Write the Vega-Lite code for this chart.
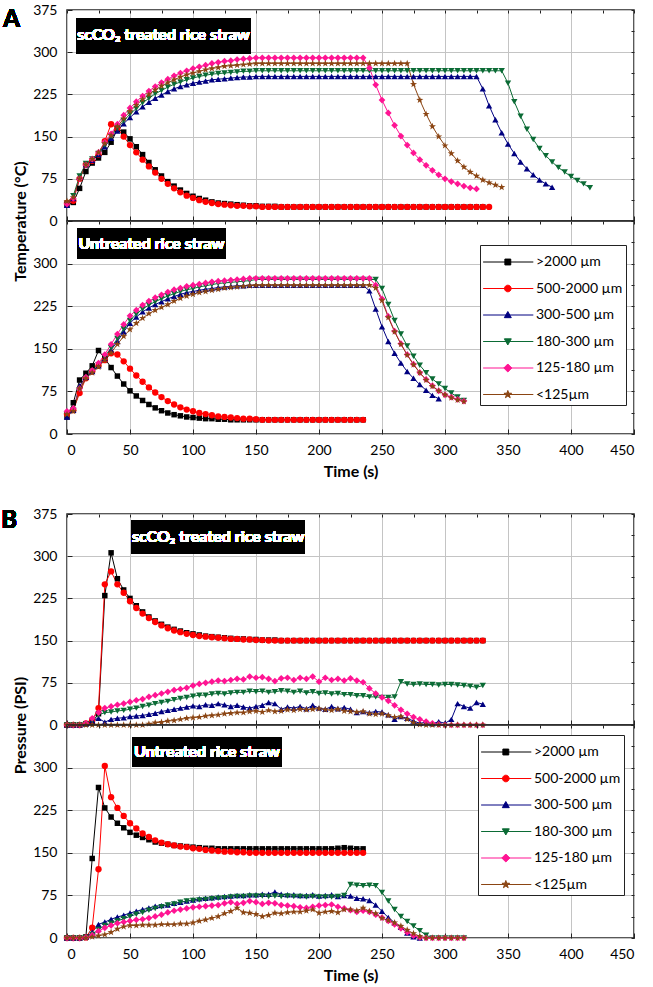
{
"$schema":"https://vega.github.io/schema/vega-lite/v6.json",
"background":"white",
"padding":{"left":0,"top":2,"right":4,"bottom":2},
"config":{"font":"Lato","view":{"stroke":"#222","strokeWidth":1.5},
"range":{"category":["#000000","#ff0000","#000080","#0b6b35","#ff1493","#8b4513"]},
"line":{"strokeWidth":1},
"point":{"filled":true,"opacity":1},
"axis":{"domain":false,"labelFont":"Lato","labelFontSize":14,"labelColor":"#000","titleFont":"Lato","titleFontSize":16,"titleFontWeight":"bold","titleColor":"#000","tickColor":"#222","grid":true},
"axisBottom":{"tickSize":-5,"labelPadding":14,"titlePadding":6,"gridColor":"#c4c4c4"},
"axisLeft":{"tickSize":-5,"labelPadding":15,"gridColor":"#c4c4c4"},
"axisTop":{"tickSize":-3,"labels":false,"gridDash":[2,2],"gridColor":"#d9d9d9"},
"axisRight":{"tickSize":-3,"labels":false,"gridDash":[2,2],"gridColor":"#d9d9d9"}},
"datasets":{
"ta":[
{"s":"a","t":0,"v":28},{"s":"a","t":5,"v":33},{"s":"a","t":10,"v":58},{"s":"a","t":15,"v":88},{"s":"a","t":20,"v":103},{"s":"a","t":25,"v":112},{"s":"a","t":30,"v":122},{"s":"a","t":35,"v":140},{"s":"a","t":40,"v":163},{"s":"a","t":45,"v":158},{"s":"a","t":50,"v":146},{"s":"a","t":55,"v":132},{"s":"a","t":60,"v":118},{"s":"a","t":65,"v":104},{"s":"a","t":70,"v":91},{"s":"a","t":75,"v":80},{"s":"a","t":80,"v":70},{"s":"a","t":85,"v":62},{"s":"a","t":90,"v":55},{"s":"a","t":95,"v":49},{"s":"a","t":100,"v":44},{"s":"a","t":105,"v":40},{"s":"a","t":110,"v":37},{"s":"a","t":115,"v":34},{"s":"a","t":120,"v":32},{"s":"a","t":125,"v":31},{"s":"a","t":130,"v":30},{"s":"a","t":135,"v":29},{"s":"a","t":140,"v":28},{"s":"a","t":145,"v":27},{"s":"a","t":150,"v":27},{"s":"a","t":155,"v":26},{"s":"a","t":160,"v":26},{"s":"a","t":165,"v":26},{"s":"a","t":170,"v":25},{"s":"a","t":175,"v":25},{"s":"a","t":180,"v":25},{"s":"a","t":185,"v":25},{"s":"a","t":190,"v":25},{"s":"a","t":195,"v":25},{"s":"a","t":200,"v":25},{"s":"a","t":205,"v":25},{"s":"a","t":210,"v":25},{"s":"a","t":215,"v":25},{"s":"a","t":220,"v":25},{"s":"a","t":225,"v":25},{"s":"a","t":230,"v":25},{"s":"a","t":235,"v":25},{"s":"a","t":240,"v":25},{"s":"a","t":245,"v":25},{"s":"a","t":250,"v":25},{"s":"a","t":255,"v":25},{"s":"a","t":260,"v":25},{"s":"a","t":265,"v":25},{"s":"a","t":270,"v":25},{"s":"a","t":275,"v":25},{"s":"a","t":280,"v":25},{"s":"a","t":285,"v":25},{"s":"a","t":290,"v":25},{"s":"a","t":295,"v":25},{"s":"a","t":300,"v":25},{"s":"a","t":305,"v":25},{"s":"a","t":310,"v":25},{"s":"a","t":315,"v":25},{"s":"a","t":320,"v":25},{"s":"a","t":325,"v":25},{"s":"a","t":330,"v":25},
{"s":"b","t":0,"v":32},{"s":"b","t":5,"v":36},{"s":"b","t":10,"v":75},{"s":"b","t":15,"v":100},{"s":"b","t":20,"v":107},{"s":"b","t":25,"v":118},{"s":"b","t":30,"v":142},{"s":"b","t":35,"v":172},{"s":"b","t":40,"v":165},{"s":"b","t":45,"v":150},{"s":"b","t":50,"v":135},{"s":"b","t":55,"v":122},{"s":"b","t":60,"v":109},{"s":"b","t":65,"v":97},{"s":"b","t":70,"v":86},{"s":"b","t":75,"v":75},{"s":"b","t":80,"v":66},{"s":"b","t":85,"v":58},{"s":"b","t":90,"v":51},{"s":"b","t":95,"v":45},{"s":"b","t":100,"v":41},{"s":"b","t":105,"v":37},{"s":"b","t":110,"v":34},{"s":"b","t":115,"v":32},{"s":"b","t":120,"v":30},{"s":"b","t":125,"v":29},{"s":"b","t":130,"v":28},{"s":"b","t":135,"v":27},{"s":"b","t":140,"v":27},{"s":"b","t":145,"v":26},{"s":"b","t":150,"v":26},{"s":"b","t":155,"v":25},{"s":"b","t":160,"v":25},{"s":"b","t":165,"v":25},{"s":"b","t":170,"v":25},{"s":"b","t":175,"v":25},{"s":"b","t":180,"v":25},{"s":"b","t":185,"v":25},{"s":"b","t":190,"v":25},{"s":"b","t":195,"v":25},{"s":"b","t":200,"v":25},{"s":"b","t":205,"v":25},{"s":"b","t":210,"v":25},{"s":"b","t":215,"v":25},{"s":"b","t":220,"v":25},{"s":"b","t":225,"v":25},{"s":"b","t":230,"v":25},{"s":"b","t":235,"v":25},{"s":"b","t":240,"v":25},{"s":"b","t":245,"v":25},{"s":"b","t":250,"v":25},{"s":"b","t":255,"v":25},{"s":"b","t":260,"v":25},{"s":"b","t":265,"v":25},{"s":"b","t":270,"v":25},{"s":"b","t":275,"v":25},{"s":"b","t":280,"v":25},{"s":"b","t":285,"v":25},{"s":"b","t":290,"v":25},{"s":"b","t":295,"v":25},{"s":"b","t":300,"v":25},{"s":"b","t":305,"v":25},{"s":"b","t":310,"v":25},{"s":"b","t":315,"v":25},{"s":"b","t":320,"v":25},{"s":"b","t":325,"v":25},{"s":"b","t":330,"v":25},{"s":"b","t":335,"v":25},
{"s":"c","t":0,"v":28},{"s":"c","t":5,"v":40},{"s":"c","t":10,"v":78},{"s":"c","t":15,"v":100},{"s":"c","t":20,"v":108},{"s":"c","t":25,"v":118},{"s":"c","t":30,"v":132},{"s":"c","t":35,"v":147},{"s":"c","t":40,"v":160},{"s":"c","t":45,"v":173},{"s":"c","t":50,"v":184},{"s":"c","t":55,"v":194},{"s":"c","t":60,"v":203},{"s":"c","t":65,"v":211},{"s":"c","t":70,"v":218},{"s":"c","t":75,"v":224},{"s":"c","t":80,"v":230},{"s":"c","t":85,"v":235},{"s":"c","t":90,"v":239},{"s":"c","t":95,"v":242},{"s":"c","t":100,"v":245},{"s":"c","t":105,"v":247},{"s":"c","t":110,"v":249},{"s":"c","t":115,"v":251},{"s":"c","t":120,"v":252},{"s":"c","t":125,"v":253},{"s":"c","t":130,"v":254},{"s":"c","t":135,"v":255},{"s":"c","t":140,"v":256},{"s":"c","t":145,"v":256},{"s":"c","t":150,"v":257},{"s":"c","t":155,"v":257},{"s":"c","t":160,"v":257},{"s":"c","t":165,"v":257},{"s":"c","t":170,"v":257},{"s":"c","t":175,"v":257},{"s":"c","t":180,"v":257},{"s":"c","t":185,"v":257},{"s":"c","t":190,"v":257},{"s":"c","t":195,"v":257},{"s":"c","t":200,"v":257},{"s":"c","t":205,"v":257},{"s":"c","t":210,"v":257},{"s":"c","t":215,"v":257},{"s":"c","t":220,"v":257},{"s":"c","t":225,"v":257},{"s":"c","t":230,"v":257},{"s":"c","t":235,"v":257},{"s":"c","t":240,"v":257},{"s":"c","t":245,"v":257},{"s":"c","t":250,"v":257},{"s":"c","t":255,"v":257},{"s":"c","t":260,"v":257},{"s":"c","t":265,"v":257},{"s":"c","t":270,"v":257},{"s":"c","t":275,"v":257},{"s":"c","t":280,"v":257},{"s":"c","t":285,"v":257},{"s":"c","t":290,"v":257},{"s":"c","t":295,"v":257},{"s":"c","t":300,"v":257},{"s":"c","t":305,"v":257},{"s":"c","t":310,"v":257},{"s":"c","t":315,"v":257},{"s":"c","t":320,"v":257},{"s":"c","t":325,"v":257},{"s":"c","t":330,"v":235},{"s":"c","t":335,"v":205},{"s":"c","t":340,"v":180},{"s":"c","t":345,"v":157},{"s":"c","t":350,"v":137},{"s":"c","t":355,"v":120},{"s":"c","t":360,"v":105},{"s":"c","t":365,"v":93},{"s":"c","t":370,"v":82},{"s":"c","t":375,"v":73},{"s":"c","t":380,"v":66},{"s":"c","t":385,"v":60},
{"s":"d","t":0,"v":30},{"s":"d","t":5,"v":45},{"s":"d","t":10,"v":80},{"s":"d","t":15,"v":102},{"s":"d","t":20,"v":110},{"s":"d","t":25,"v":120},{"s":"d","t":30,"v":135},{"s":"d","t":35,"v":150},{"s":"d","t":40,"v":165},{"s":"d","t":45,"v":178},{"s":"d","t":50,"v":190},{"s":"d","t":55,"v":200},{"s":"d","t":60,"v":210},{"s":"d","t":65,"v":218},{"s":"d","t":70,"v":226},{"s":"d","t":75,"v":232},{"s":"d","t":80,"v":238},{"s":"d","t":85,"v":243},{"s":"d","t":90,"v":247},{"s":"d","t":95,"v":251},{"s":"d","t":100,"v":254},{"s":"d","t":105,"v":257},{"s":"d","t":110,"v":259},{"s":"d","t":115,"v":261},{"s":"d","t":120,"v":262},{"s":"d","t":125,"v":263},{"s":"d","t":130,"v":264},{"s":"d","t":135,"v":265},{"s":"d","t":140,"v":266},{"s":"d","t":145,"v":266},{"s":"d","t":150,"v":267},{"s":"d","t":155,"v":267},{"s":"d","t":160,"v":267},{"s":"d","t":165,"v":267},{"s":"d","t":170,"v":267},{"s":"d","t":175,"v":267},{"s":"d","t":180,"v":267},{"s":"d","t":185,"v":267},{"s":"d","t":190,"v":267},{"s":"d","t":195,"v":267},{"s":"d","t":200,"v":267},{"s":"d","t":205,"v":267},{"s":"d","t":210,"v":267},{"s":"d","t":215,"v":267},{"s":"d","t":220,"v":267},{"s":"d","t":225,"v":267},{"s":"d","t":230,"v":267},{"s":"d","t":235,"v":267},{"s":"d","t":240,"v":267},{"s":"d","t":245,"v":267},{"s":"d","t":250,"v":267},{"s":"d","t":255,"v":267},{"s":"d","t":260,"v":267},{"s":"d","t":265,"v":267},{"s":"d","t":270,"v":267},{"s":"d","t":275,"v":267},{"s":"d","t":280,"v":267},{"s":"d","t":285,"v":267},{"s":"d","t":290,"v":267},{"s":"d","t":295,"v":267},{"s":"d","t":300,"v":267},{"s":"d","t":305,"v":267},{"s":"d","t":310,"v":267},{"s":"d","t":315,"v":267},{"s":"d","t":320,"v":267},{"s":"d","t":325,"v":267},{"s":"d","t":330,"v":267},{"s":"d","t":335,"v":267},{"s":"d","t":340,"v":267},{"s":"d","t":345,"v":267},{"s":"d","t":350,"v":245},{"s":"d","t":355,"v":212},{"s":"d","t":360,"v":186},{"s":"d","t":365,"v":163},{"s":"d","t":370,"v":145},{"s":"d","t":375,"v":129},{"s":"d","t":380,"v":116},{"s":"d","t":385,"v":105},{"s":"d","t":390,"v":95},{"s":"d","t":395,"v":87},{"s":"d","t":400,"v":79},{"s":"d","t":405,"v":72},{"s":"d","t":410,"v":66},{"s":"d","t":415,"v":59},
{"s":"e","t":0,"v":30},{"s":"e","t":5,"v":40},{"s":"e","t":10,"v":75},{"s":"e","t":15,"v":100},{"s":"e","t":20,"v":110},{"s":"e","t":25,"v":122},{"s":"e","t":30,"v":140},{"s":"e","t":35,"v":155},{"s":"e","t":40,"v":172},{"s":"e","t":45,"v":188},{"s":"e","t":50,"v":201},{"s":"e","t":55,"v":212},{"s":"e","t":60,"v":222},{"s":"e","t":65,"v":231},{"s":"e","t":70,"v":239},{"s":"e","t":75,"v":246},{"s":"e","t":80,"v":252},{"s":"e","t":85,"v":258},{"s":"e","t":90,"v":263},{"s":"e","t":95,"v":267},{"s":"e","t":100,"v":271},{"s":"e","t":105,"v":274},{"s":"e","t":110,"v":277},{"s":"e","t":115,"v":280},{"s":"e","t":120,"v":282},{"s":"e","t":125,"v":284},{"s":"e","t":130,"v":285},{"s":"e","t":135,"v":287},{"s":"e","t":140,"v":288},{"s":"e","t":145,"v":289},{"s":"e","t":150,"v":290},{"s":"e","t":155,"v":290},{"s":"e","t":160,"v":290},{"s":"e","t":165,"v":290},{"s":"e","t":170,"v":290},{"s":"e","t":175,"v":290},{"s":"e","t":180,"v":290},{"s":"e","t":185,"v":290},{"s":"e","t":190,"v":290},{"s":"e","t":195,"v":290},{"s":"e","t":200,"v":290},{"s":"e","t":205,"v":290},{"s":"e","t":210,"v":290},{"s":"e","t":215,"v":290},{"s":"e","t":220,"v":290},{"s":"e","t":225,"v":290},{"s":"e","t":230,"v":290},{"s":"e","t":235,"v":290},{"s":"e","t":240,"v":272},{"s":"e","t":245,"v":242},{"s":"e","t":250,"v":215},{"s":"e","t":255,"v":192},{"s":"e","t":260,"v":170},{"s":"e","t":265,"v":151},{"s":"e","t":270,"v":135},{"s":"e","t":275,"v":121},{"s":"e","t":280,"v":109},{"s":"e","t":285,"v":99},{"s":"e","t":290,"v":90},{"s":"e","t":295,"v":82},{"s":"e","t":300,"v":75},{"s":"e","t":305,"v":70},{"s":"e","t":310,"v":66},{"s":"e","t":315,"v":62},{"s":"e","t":320,"v":59},{"s":"e","t":325,"v":57},
{"s":"f","t":0,"v":35},{"s":"f","t":5,"v":42},{"s":"f","t":10,"v":75},{"s":"f","t":15,"v":100},{"s":"f","t":20,"v":110},{"s":"f","t":25,"v":122},{"s":"f","t":30,"v":138},{"s":"f","t":35,"v":152},{"s":"f","t":40,"v":168},{"s":"f","t":45,"v":182},{"s":"f","t":50,"v":195},{"s":"f","t":55,"v":206},{"s":"f","t":60,"v":216},{"s":"f","t":65,"v":225},{"s":"f","t":70,"v":233},{"s":"f","t":75,"v":240},{"s":"f","t":80,"v":246},{"s":"f","t":85,"v":251},{"s":"f","t":90,"v":256},{"s":"f","t":95,"v":260},{"s":"f","t":100,"v":263},{"s":"f","t":105,"v":266},{"s":"f","t":110,"v":269},{"s":"f","t":115,"v":271},{"s":"f","t":120,"v":273},{"s":"f","t":125,"v":275},{"s":"f","t":130,"v":276},{"s":"f","t":135,"v":277},{"s":"f","t":140,"v":278},{"s":"f","t":145,"v":279},{"s":"f","t":150,"v":280},{"s":"f","t":155,"v":280},{"s":"f","t":160,"v":280},{"s":"f","t":165,"v":280},{"s":"f","t":170,"v":280},{"s":"f","t":175,"v":280},{"s":"f","t":180,"v":280},{"s":"f","t":185,"v":280},{"s":"f","t":190,"v":280},{"s":"f","t":195,"v":280},{"s":"f","t":200,"v":280},{"s":"f","t":205,"v":280},{"s":"f","t":210,"v":280},{"s":"f","t":215,"v":280},{"s":"f","t":220,"v":280},{"s":"f","t":225,"v":280},{"s":"f","t":230,"v":280},{"s":"f","t":235,"v":280},{"s":"f","t":240,"v":280},{"s":"f","t":245,"v":280},{"s":"f","t":250,"v":280},{"s":"f","t":255,"v":280},{"s":"f","t":260,"v":280},{"s":"f","t":265,"v":280},{"s":"f","t":270,"v":280},{"s":"f","t":275,"v":243},{"s":"f","t":280,"v":215},{"s":"f","t":285,"v":190},{"s":"f","t":290,"v":168},{"s":"f","t":295,"v":150},{"s":"f","t":300,"v":134},{"s":"f","t":305,"v":120},{"s":"f","t":310,"v":107},{"s":"f","t":315,"v":96},{"s":"f","t":320,"v":87},{"s":"f","t":325,"v":80},{"s":"f","t":330,"v":73},{"s":"f","t":335,"v":68},{"s":"f","t":340,"v":64},{"s":"f","t":345,"v":60}
],
"tb":[
{"s":"a","t":0,"v":30},{"s":"a","t":5,"v":55},{"s":"a","t":10,"v":95},{"s":"a","t":15,"v":107},{"s":"a","t":20,"v":120},{"s":"a","t":25,"v":147},{"s":"a","t":30,"v":133},{"s":"a","t":35,"v":117},{"s":"a","t":40,"v":102},{"s":"a","t":45,"v":88},{"s":"a","t":50,"v":76},{"s":"a","t":55,"v":67},{"s":"a","t":60,"v":59},{"s":"a","t":65,"v":52},{"s":"a","t":70,"v":46},{"s":"a","t":75,"v":41},{"s":"a","t":80,"v":37},{"s":"a","t":85,"v":34},{"s":"a","t":90,"v":32},{"s":"a","t":95,"v":30},{"s":"a","t":100,"v":29},{"s":"a","t":105,"v":28},{"s":"a","t":110,"v":27},{"s":"a","t":115,"v":27},{"s":"a","t":120,"v":26},{"s":"a","t":125,"v":26},{"s":"a","t":130,"v":25},{"s":"a","t":135,"v":25},{"s":"a","t":140,"v":25},{"s":"a","t":145,"v":25},{"s":"a","t":150,"v":25},{"s":"a","t":155,"v":25},{"s":"a","t":160,"v":25},{"s":"a","t":165,"v":25},{"s":"a","t":170,"v":25},{"s":"a","t":175,"v":25},{"s":"a","t":180,"v":25},{"s":"a","t":185,"v":25},{"s":"a","t":190,"v":25},{"s":"a","t":195,"v":25},{"s":"a","t":200,"v":25},{"s":"a","t":205,"v":25},{"s":"a","t":210,"v":25},{"s":"a","t":215,"v":25},{"s":"a","t":220,"v":25},{"s":"a","t":225,"v":25},{"s":"a","t":230,"v":25},{"s":"a","t":235,"v":25},
{"s":"b","t":0,"v":35},{"s":"b","t":5,"v":42},{"s":"b","t":10,"v":72},{"s":"b","t":15,"v":98},{"s":"b","t":20,"v":110},{"s":"b","t":25,"v":120},{"s":"b","t":30,"v":130},{"s":"b","t":35,"v":142},{"s":"b","t":40,"v":140},{"s":"b","t":45,"v":128},{"s":"b","t":50,"v":115},{"s":"b","t":55,"v":103},{"s":"b","t":60,"v":92},{"s":"b","t":65,"v":82},{"s":"b","t":70,"v":73},{"s":"b","t":75,"v":65},{"s":"b","t":80,"v":58},{"s":"b","t":85,"v":52},{"s":"b","t":90,"v":47},{"s":"b","t":95,"v":43},{"s":"b","t":100,"v":40},{"s":"b","t":105,"v":37},{"s":"b","t":110,"v":35},{"s":"b","t":115,"v":33},{"s":"b","t":120,"v":31},{"s":"b","t":125,"v":30},{"s":"b","t":130,"v":29},{"s":"b","t":135,"v":28},{"s":"b","t":140,"v":27},{"s":"b","t":145,"v":27},{"s":"b","t":150,"v":26},{"s":"b","t":155,"v":25},{"s":"b","t":160,"v":25},{"s":"b","t":165,"v":25},{"s":"b","t":170,"v":25},{"s":"b","t":175,"v":25},{"s":"b","t":180,"v":25},{"s":"b","t":185,"v":25},{"s":"b","t":190,"v":25},{"s":"b","t":195,"v":25},{"s":"b","t":200,"v":25},{"s":"b","t":205,"v":25},{"s":"b","t":210,"v":25},{"s":"b","t":215,"v":25},{"s":"b","t":220,"v":25},{"s":"b","t":225,"v":25},{"s":"b","t":230,"v":25},{"s":"b","t":235,"v":25},
{"s":"c","t":0,"v":30},{"s":"c","t":5,"v":42},{"s":"c","t":10,"v":85},{"s":"c","t":15,"v":100},{"s":"c","t":20,"v":110},{"s":"c","t":25,"v":120},{"s":"c","t":30,"v":133},{"s":"c","t":35,"v":148},{"s":"c","t":40,"v":163},{"s":"c","t":45,"v":180},{"s":"c","t":50,"v":195},{"s":"c","t":55,"v":206},{"s":"c","t":60,"v":215},{"s":"c","t":65,"v":222},{"s":"c","t":70,"v":228},{"s":"c","t":75,"v":233},{"s":"c","t":80,"v":238},{"s":"c","t":85,"v":242},{"s":"c","t":90,"v":246},{"s":"c","t":95,"v":249},{"s":"c","t":100,"v":251},{"s":"c","t":105,"v":253},{"s":"c","t":110,"v":255},{"s":"c","t":115,"v":256},{"s":"c","t":120,"v":258},{"s":"c","t":125,"v":259},{"s":"c","t":130,"v":260},{"s":"c","t":135,"v":261},{"s":"c","t":140,"v":261},{"s":"c","t":145,"v":262},{"s":"c","t":150,"v":262},{"s":"c","t":155,"v":262},{"s":"c","t":160,"v":262},{"s":"c","t":165,"v":262},{"s":"c","t":170,"v":262},{"s":"c","t":175,"v":262},{"s":"c","t":180,"v":262},{"s":"c","t":185,"v":262},{"s":"c","t":190,"v":262},{"s":"c","t":195,"v":262},{"s":"c","t":200,"v":262},{"s":"c","t":205,"v":262},{"s":"c","t":210,"v":262},{"s":"c","t":215,"v":262},{"s":"c","t":220,"v":262},{"s":"c","t":225,"v":262},{"s":"c","t":230,"v":262},{"s":"c","t":235,"v":262},{"s":"c","t":240,"v":252},{"s":"c","t":245,"v":220},{"s":"c","t":250,"v":189},{"s":"c","t":255,"v":163},{"s":"c","t":260,"v":142},{"s":"c","t":265,"v":125},{"s":"c","t":270,"v":110},{"s":"c","t":275,"v":98},{"s":"c","t":280,"v":87},{"s":"c","t":285,"v":77},{"s":"c","t":290,"v":68},{"s":"c","t":295,"v":62},
{"s":"d","t":0,"v":35},{"s":"d","t":5,"v":42},{"s":"d","t":10,"v":78},{"s":"d","t":15,"v":98},{"s":"d","t":20,"v":110},{"s":"d","t":25,"v":122},{"s":"d","t":30,"v":136},{"s":"d","t":35,"v":152},{"s":"d","t":40,"v":168},{"s":"d","t":45,"v":185},{"s":"d","t":50,"v":200},{"s":"d","t":55,"v":211},{"s":"d","t":60,"v":220},{"s":"d","t":65,"v":227},{"s":"d","t":70,"v":233},{"s":"d","t":75,"v":238},{"s":"d","t":80,"v":243},{"s":"d","t":85,"v":247},{"s":"d","t":90,"v":251},{"s":"d","t":95,"v":254},{"s":"d","t":100,"v":256},{"s":"d","t":105,"v":259},{"s":"d","t":110,"v":261},{"s":"d","t":115,"v":263},{"s":"d","t":120,"v":265},{"s":"d","t":125,"v":266},{"s":"d","t":130,"v":267},{"s":"d","t":135,"v":268},{"s":"d","t":140,"v":269},{"s":"d","t":145,"v":270},{"s":"d","t":150,"v":272},{"s":"d","t":155,"v":272},{"s":"d","t":160,"v":272},{"s":"d","t":165,"v":272},{"s":"d","t":170,"v":272},{"s":"d","t":175,"v":272},{"s":"d","t":180,"v":272},{"s":"d","t":185,"v":272},{"s":"d","t":190,"v":272},{"s":"d","t":195,"v":272},{"s":"d","t":200,"v":272},{"s":"d","t":205,"v":272},{"s":"d","t":210,"v":272},{"s":"d","t":215,"v":272},{"s":"d","t":220,"v":272},{"s":"d","t":225,"v":272},{"s":"d","t":230,"v":272},{"s":"d","t":235,"v":272},{"s":"d","t":240,"v":272},{"s":"d","t":245,"v":272},{"s":"d","t":250,"v":256},{"s":"d","t":255,"v":228},{"s":"d","t":260,"v":200},{"s":"d","t":265,"v":176},{"s":"d","t":270,"v":155},{"s":"d","t":275,"v":137},{"s":"d","t":280,"v":121},{"s":"d","t":285,"v":108},{"s":"d","t":290,"v":97},{"s":"d","t":295,"v":88},{"s":"d","t":300,"v":80},{"s":"d","t":305,"v":72},{"s":"d","t":310,"v":65},{"s":"d","t":315,"v":59},
{"s":"e","t":0,"v":40},{"s":"e","t":5,"v":45},{"s":"e","t":10,"v":80},{"s":"e","t":15,"v":100},{"s":"e","t":20,"v":112},{"s":"e","t":25,"v":125},{"s":"e","t":30,"v":140},{"s":"e","t":35,"v":158},{"s":"e","t":40,"v":176},{"s":"e","t":45,"v":193},{"s":"e","t":50,"v":208},{"s":"e","t":55,"v":218},{"s":"e","t":60,"v":227},{"s":"e","t":65,"v":234},{"s":"e","t":70,"v":240},{"s":"e","t":75,"v":245},{"s":"e","t":80,"v":250},{"s":"e","t":85,"v":254},{"s":"e","t":90,"v":257},{"s":"e","t":95,"v":260},{"s":"e","t":100,"v":262},{"s":"e","t":105,"v":264},{"s":"e","t":110,"v":266},{"s":"e","t":115,"v":268},{"s":"e","t":120,"v":269},{"s":"e","t":125,"v":270},{"s":"e","t":130,"v":271},{"s":"e","t":135,"v":272},{"s":"e","t":140,"v":273},{"s":"e","t":145,"v":274},{"s":"e","t":150,"v":274},{"s":"e","t":155,"v":274},{"s":"e","t":160,"v":274},{"s":"e","t":165,"v":274},{"s":"e","t":170,"v":274},{"s":"e","t":175,"v":274},{"s":"e","t":180,"v":274},{"s":"e","t":185,"v":274},{"s":"e","t":190,"v":274},{"s":"e","t":195,"v":274},{"s":"e","t":200,"v":274},{"s":"e","t":205,"v":274},{"s":"e","t":210,"v":274},{"s":"e","t":215,"v":274},{"s":"e","t":220,"v":274},{"s":"e","t":225,"v":274},{"s":"e","t":230,"v":274},{"s":"e","t":235,"v":274},{"s":"e","t":240,"v":274},{"s":"e","t":245,"v":262},{"s":"e","t":250,"v":238},{"s":"e","t":255,"v":207},{"s":"e","t":260,"v":181},{"s":"e","t":265,"v":159},{"s":"e","t":270,"v":140},{"s":"e","t":275,"v":123},{"s":"e","t":280,"v":108},{"s":"e","t":285,"v":96},{"s":"e","t":290,"v":85},{"s":"e","t":295,"v":76},{"s":"e","t":300,"v":69},{"s":"e","t":305,"v":65},{"s":"e","t":310,"v":61},{"s":"e","t":315,"v":58},
{"s":"f","t":0,"v":35},{"s":"f","t":5,"v":40},{"s":"f","t":10,"v":80},{"s":"f","t":15,"v":98},{"s":"f","t":20,"v":108},{"s":"f","t":25,"v":118},{"s":"f","t":30,"v":130},{"s":"f","t":35,"v":143},{"s":"f","t":40,"v":158},{"s":"f","t":45,"v":172},{"s":"f","t":50,"v":184},{"s":"f","t":55,"v":195},{"s":"f","t":60,"v":204},{"s":"f","t":65,"v":212},{"s":"f","t":70,"v":218},{"s":"f","t":75,"v":223},{"s":"f","t":80,"v":228},{"s":"f","t":85,"v":234},{"s":"f","t":90,"v":239},{"s":"f","t":95,"v":243},{"s":"f","t":100,"v":246},{"s":"f","t":105,"v":249},{"s":"f","t":110,"v":251},{"s":"f","t":115,"v":253},{"s":"f","t":120,"v":255},{"s":"f","t":125,"v":257},{"s":"f","t":130,"v":258},{"s":"f","t":135,"v":259},{"s":"f","t":140,"v":260},{"s":"f","t":145,"v":261},{"s":"f","t":150,"v":262},{"s":"f","t":155,"v":262},{"s":"f","t":160,"v":262},{"s":"f","t":165,"v":262},{"s":"f","t":170,"v":262},{"s":"f","t":175,"v":262},{"s":"f","t":180,"v":262},{"s":"f","t":185,"v":262},{"s":"f","t":190,"v":262},{"s":"f","t":195,"v":262},{"s":"f","t":200,"v":262},{"s":"f","t":205,"v":262},{"s":"f","t":210,"v":262},{"s":"f","t":215,"v":262},{"s":"f","t":220,"v":262},{"s":"f","t":225,"v":262},{"s":"f","t":230,"v":262},{"s":"f","t":235,"v":262},{"s":"f","t":240,"v":262},{"s":"f","t":245,"v":257},{"s":"f","t":250,"v":235},{"s":"f","t":255,"v":205},{"s":"f","t":260,"v":180},{"s":"f","t":265,"v":158},{"s":"f","t":270,"v":139},{"s":"f","t":275,"v":122},{"s":"f","t":280,"v":108},{"s":"f","t":285,"v":95},{"s":"f","t":290,"v":84},{"s":"f","t":295,"v":76},{"s":"f","t":300,"v":69},{"s":"f","t":305,"v":64},{"s":"f","t":310,"v":60},{"s":"f","t":315,"v":57}
],
"pa":[
{"s":"a","t":0,"v":0},{"s":"a","t":5,"v":0},{"s":"a","t":10,"v":0},{"s":"a","t":15,"v":2},{"s":"a","t":20,"v":5},{"s":"a","t":25,"v":20},{"s":"a","t":30,"v":230},{"s":"a","t":35,"v":306},{"s":"a","t":40,"v":260},{"s":"a","t":45,"v":240},{"s":"a","t":50,"v":225},{"s":"a","t":55,"v":212},{"s":"a","t":60,"v":201},{"s":"a","t":65,"v":192},{"s":"a","t":70,"v":185},{"s":"a","t":75,"v":179},{"s":"a","t":80,"v":174},{"s":"a","t":85,"v":170},{"s":"a","t":90,"v":167},{"s":"a","t":95,"v":164},{"s":"a","t":100,"v":162},{"s":"a","t":105,"v":160},{"s":"a","t":110,"v":158},{"s":"a","t":115,"v":157},{"s":"a","t":120,"v":156},{"s":"a","t":125,"v":155},{"s":"a","t":130,"v":154},{"s":"a","t":135,"v":153},{"s":"a","t":140,"v":153},{"s":"a","t":145,"v":152},{"s":"a","t":150,"v":152},{"s":"a","t":155,"v":151},{"s":"a","t":160,"v":151},{"s":"a","t":165,"v":151},{"s":"a","t":170,"v":150},{"s":"a","t":175,"v":150},{"s":"a","t":180,"v":150},{"s":"a","t":185,"v":150},{"s":"a","t":190,"v":150},{"s":"a","t":195,"v":150},{"s":"a","t":200,"v":150},{"s":"a","t":205,"v":150},{"s":"a","t":210,"v":150},{"s":"a","t":215,"v":150},{"s":"a","t":220,"v":150},{"s":"a","t":225,"v":150},{"s":"a","t":230,"v":150},{"s":"a","t":235,"v":150},{"s":"a","t":240,"v":150},{"s":"a","t":245,"v":150},{"s":"a","t":250,"v":150},{"s":"a","t":255,"v":150},{"s":"a","t":260,"v":150},{"s":"a","t":265,"v":150},{"s":"a","t":270,"v":150},{"s":"a","t":275,"v":150},{"s":"a","t":280,"v":150},{"s":"a","t":285,"v":150},{"s":"a","t":290,"v":150},{"s":"a","t":295,"v":150},{"s":"a","t":300,"v":150},{"s":"a","t":305,"v":150},{"s":"a","t":310,"v":150},{"s":"a","t":315,"v":150},{"s":"a","t":320,"v":150},{"s":"a","t":325,"v":150},{"s":"a","t":330,"v":150},
{"s":"b","t":0,"v":0},{"s":"b","t":5,"v":0},{"s":"b","t":10,"v":0},{"s":"b","t":15,"v":3},{"s":"b","t":20,"v":8},{"s":"b","t":25,"v":30},{"s":"b","t":30,"v":250},{"s":"b","t":35,"v":273},{"s":"b","t":40,"v":250},{"s":"b","t":45,"v":235},{"s":"b","t":50,"v":220},{"s":"b","t":55,"v":208},{"s":"b","t":60,"v":198},{"s":"b","t":65,"v":190},{"s":"b","t":70,"v":183},{"s":"b","t":75,"v":177},{"s":"b","t":80,"v":172},{"s":"b","t":85,"v":168},{"s":"b","t":90,"v":165},{"s":"b","t":95,"v":162},{"s":"b","t":100,"v":160},{"s":"b","t":105,"v":158},{"s":"b","t":110,"v":157},{"s":"b","t":115,"v":156},{"s":"b","t":120,"v":155},{"s":"b","t":125,"v":154},{"s":"b","t":130,"v":153},{"s":"b","t":135,"v":153},{"s":"b","t":140,"v":152},{"s":"b","t":145,"v":152},{"s":"b","t":150,"v":151},{"s":"b","t":155,"v":151},{"s":"b","t":160,"v":150},{"s":"b","t":165,"v":150},{"s":"b","t":170,"v":150},{"s":"b","t":175,"v":150},{"s":"b","t":180,"v":150},{"s":"b","t":185,"v":150},{"s":"b","t":190,"v":150},{"s":"b","t":195,"v":150},{"s":"b","t":200,"v":150},{"s":"b","t":205,"v":150},{"s":"b","t":210,"v":150},{"s":"b","t":215,"v":150},{"s":"b","t":220,"v":150},{"s":"b","t":225,"v":150},{"s":"b","t":230,"v":150},{"s":"b","t":235,"v":150},{"s":"b","t":240,"v":150},{"s":"b","t":245,"v":150},{"s":"b","t":250,"v":150},{"s":"b","t":255,"v":150},{"s":"b","t":260,"v":150},{"s":"b","t":265,"v":150},{"s":"b","t":270,"v":150},{"s":"b","t":275,"v":150},{"s":"b","t":280,"v":150},{"s":"b","t":285,"v":150},{"s":"b","t":290,"v":150},{"s":"b","t":295,"v":150},{"s":"b","t":300,"v":150},{"s":"b","t":305,"v":150},{"s":"b","t":310,"v":150},{"s":"b","t":315,"v":150},{"s":"b","t":320,"v":150},{"s":"b","t":325,"v":150},{"s":"b","t":330,"v":150},
{"s":"c","t":0,"v":0},{"s":"c","t":5,"v":0},{"s":"c","t":10,"v":0},{"s":"c","t":15,"v":2},{"s":"c","t":20,"v":8},{"s":"c","t":25,"v":12},{"s":"c","t":30,"v":5},{"s":"c","t":35,"v":10},{"s":"c","t":40,"v":12},{"s":"c","t":45,"v":13},{"s":"c","t":50,"v":15},{"s":"c","t":55,"v":16},{"s":"c","t":60,"v":17},{"s":"c","t":65,"v":19},{"s":"c","t":70,"v":21},{"s":"c","t":75,"v":24},{"s":"c","t":80,"v":26},{"s":"c","t":85,"v":28},{"s":"c","t":90,"v":30},{"s":"c","t":95,"v":32},{"s":"c","t":100,"v":34},{"s":"c","t":105,"v":33},{"s":"c","t":110,"v":36},{"s":"c","t":115,"v":35},{"s":"c","t":120,"v":38},{"s":"c","t":125,"v":36},{"s":"c","t":130,"v":33},{"s":"c","t":135,"v":35},{"s":"c","t":140,"v":32},{"s":"c","t":145,"v":30},{"s":"c","t":150,"v":33},{"s":"c","t":155,"v":35},{"s":"c","t":160,"v":40},{"s":"c","t":165,"v":38},{"s":"c","t":170,"v":28},{"s":"c","t":175,"v":32},{"s":"c","t":180,"v":30},{"s":"c","t":185,"v":33},{"s":"c","t":190,"v":29},{"s":"c","t":195,"v":35},{"s":"c","t":200,"v":30},{"s":"c","t":205,"v":28},{"s":"c","t":210,"v":33},{"s":"c","t":215,"v":29},{"s":"c","t":220,"v":31},{"s":"c","t":225,"v":28},{"s":"c","t":230,"v":22},{"s":"c","t":235,"v":24},{"s":"c","t":240,"v":22},{"s":"c","t":245,"v":24},{"s":"c","t":250,"v":23},{"s":"c","t":255,"v":18},{"s":"c","t":260,"v":10},{"s":"c","t":265,"v":15},{"s":"c","t":270,"v":12},{"s":"c","t":275,"v":7},{"s":"c","t":280,"v":3},{"s":"c","t":285,"v":5},{"s":"c","t":290,"v":2},{"s":"c","t":295,"v":6},{"s":"c","t":300,"v":3},{"s":"c","t":305,"v":10},{"s":"c","t":310,"v":38},{"s":"c","t":315,"v":33},{"s":"c","t":320,"v":30},{"s":"c","t":325,"v":40},{"s":"c","t":330,"v":37},
{"s":"d","t":0,"v":0},{"s":"d","t":5,"v":0},{"s":"d","t":10,"v":0},{"s":"d","t":15,"v":2},{"s":"d","t":20,"v":8},{"s":"d","t":25,"v":18},{"s":"d","t":30,"v":22},{"s":"d","t":35,"v":23},{"s":"d","t":40,"v":25},{"s":"d","t":45,"v":26},{"s":"d","t":50,"v":28},{"s":"d","t":55,"v":30},{"s":"d","t":60,"v":33},{"s":"d","t":65,"v":35},{"s":"d","t":70,"v":38},{"s":"d","t":75,"v":40},{"s":"d","t":80,"v":42},{"s":"d","t":85,"v":45},{"s":"d","t":90,"v":47},{"s":"d","t":95,"v":49},{"s":"d","t":100,"v":51},{"s":"d","t":105,"v":53},{"s":"d","t":110,"v":53},{"s":"d","t":115,"v":55},{"s":"d","t":120,"v":56},{"s":"d","t":125,"v":55},{"s":"d","t":130,"v":57},{"s":"d","t":135,"v":58},{"s":"d","t":140,"v":58},{"s":"d","t":145,"v":60},{"s":"d","t":150,"v":59},{"s":"d","t":155,"v":60},{"s":"d","t":160,"v":58},{"s":"d","t":165,"v":59},{"s":"d","t":170,"v":61},{"s":"d","t":175,"v":60},{"s":"d","t":180,"v":58},{"s":"d","t":185,"v":60},{"s":"d","t":190,"v":57},{"s":"d","t":195,"v":59},{"s":"d","t":200,"v":56},{"s":"d","t":205,"v":57},{"s":"d","t":210,"v":55},{"s":"d","t":215,"v":56},{"s":"d","t":220,"v":54},{"s":"d","t":225,"v":54},{"s":"d","t":230,"v":52},{"s":"d","t":235,"v":52},{"s":"d","t":240,"v":50},{"s":"d","t":245,"v":50},{"s":"d","t":250,"v":49},{"s":"d","t":255,"v":49},{"s":"d","t":260,"v":50},{"s":"d","t":265,"v":77},{"s":"d","t":270,"v":73},{"s":"d","t":275,"v":72},{"s":"d","t":280,"v":73},{"s":"d","t":285,"v":72},{"s":"d","t":290,"v":72},{"s":"d","t":295,"v":71},{"s":"d","t":300,"v":72},{"s":"d","t":305,"v":72},{"s":"d","t":310,"v":71},{"s":"d","t":315,"v":70},{"s":"d","t":320,"v":69},{"s":"d","t":325,"v":67},{"s":"d","t":330,"v":70},
{"s":"e","t":0,"v":0},{"s":"e","t":5,"v":0},{"s":"e","t":10,"v":0},{"s":"e","t":15,"v":3},{"s":"e","t":20,"v":12},{"s":"e","t":25,"v":22},{"s":"e","t":30,"v":30},{"s":"e","t":35,"v":33},{"s":"e","t":40,"v":36},{"s":"e","t":45,"v":38},{"s":"e","t":50,"v":41},{"s":"e","t":55,"v":44},{"s":"e","t":60,"v":46},{"s":"e","t":65,"v":50},{"s":"e","t":70,"v":53},{"s":"e","t":75,"v":56},{"s":"e","t":80,"v":59},{"s":"e","t":85,"v":62},{"s":"e","t":90,"v":64},{"s":"e","t":95,"v":66},{"s":"e","t":100,"v":70},{"s":"e","t":105,"v":73},{"s":"e","t":110,"v":75},{"s":"e","t":115,"v":77},{"s":"e","t":120,"v":79},{"s":"e","t":125,"v":78},{"s":"e","t":130,"v":80},{"s":"e","t":135,"v":82},{"s":"e","t":140,"v":81},{"s":"e","t":145,"v":86},{"s":"e","t":150,"v":84},{"s":"e","t":155,"v":85},{"s":"e","t":160,"v":82},{"s":"e","t":165,"v":78},{"s":"e","t":170,"v":83},{"s":"e","t":175,"v":84},{"s":"e","t":180,"v":80},{"s":"e","t":185,"v":84},{"s":"e","t":190,"v":82},{"s":"e","t":195,"v":86},{"s":"e","t":200,"v":77},{"s":"e","t":205,"v":84},{"s":"e","t":210,"v":80},{"s":"e","t":215,"v":82},{"s":"e","t":220,"v":79},{"s":"e","t":225,"v":83},{"s":"e","t":230,"v":79},{"s":"e","t":235,"v":76},{"s":"e","t":240,"v":65},{"s":"e","t":245,"v":56},{"s":"e","t":250,"v":49},{"s":"e","t":255,"v":43},{"s":"e","t":260,"v":35},{"s":"e","t":265,"v":27},{"s":"e","t":270,"v":20},{"s":"e","t":275,"v":14},{"s":"e","t":280,"v":10},{"s":"e","t":285,"v":6},{"s":"e","t":290,"v":3},{"s":"e","t":295,"v":1},{"s":"e","t":300,"v":0},{"s":"e","t":305,"v":0},{"s":"e","t":310,"v":0},{"s":"e","t":315,"v":0},{"s":"e","t":320,"v":0},{"s":"e","t":325,"v":0},{"s":"e","t":330,"v":0},
{"s":"f","t":0,"v":0},{"s":"f","t":5,"v":0},{"s":"f","t":10,"v":0},{"s":"f","t":15,"v":0},{"s":"f","t":20,"v":0},{"s":"f","t":25,"v":0},{"s":"f","t":30,"v":0},{"s":"f","t":35,"v":0},{"s":"f","t":40,"v":0},{"s":"f","t":45,"v":0},{"s":"f","t":50,"v":0},{"s":"f","t":55,"v":0},{"s":"f","t":60,"v":0},{"s":"f","t":65,"v":2},{"s":"f","t":70,"v":4},{"s":"f","t":75,"v":5},{"s":"f","t":80,"v":7},{"s":"f","t":85,"v":8},{"s":"f","t":90,"v":10},{"s":"f","t":95,"v":12},{"s":"f","t":100,"v":13},{"s":"f","t":105,"v":14},{"s":"f","t":110,"v":16},{"s":"f","t":115,"v":17},{"s":"f","t":120,"v":18},{"s":"f","t":125,"v":20},{"s":"f","t":130,"v":21},{"s":"f","t":135,"v":22},{"s":"f","t":140,"v":22},{"s":"f","t":145,"v":24},{"s":"f","t":150,"v":25},{"s":"f","t":155,"v":23},{"s":"f","t":160,"v":26},{"s":"f","t":165,"v":24},{"s":"f","t":170,"v":25},{"s":"f","t":175,"v":27},{"s":"f","t":180,"v":26},{"s":"f","t":185,"v":28},{"s":"f","t":190,"v":27},{"s":"f","t":195,"v":28},{"s":"f","t":200,"v":29},{"s":"f","t":205,"v":27},{"s":"f","t":210,"v":26},{"s":"f","t":215,"v":28},{"s":"f","t":220,"v":25},{"s":"f","t":225,"v":24},{"s":"f","t":230,"v":23},{"s":"f","t":235,"v":24},{"s":"f","t":240,"v":20},{"s":"f","t":245,"v":19},{"s":"f","t":250,"v":20},{"s":"f","t":255,"v":17},{"s":"f","t":260,"v":14},{"s":"f","t":265,"v":15},{"s":"f","t":270,"v":10},{"s":"f","t":275,"v":4},{"s":"f","t":280,"v":1},{"s":"f","t":285,"v":0},{"s":"f","t":290,"v":0},{"s":"f","t":295,"v":0},{"s":"f","t":300,"v":0},{"s":"f","t":305,"v":0},{"s":"f","t":310,"v":0},{"s":"f","t":315,"v":0},{"s":"f","t":320,"v":0},{"s":"f","t":325,"v":0},{"s":"f","t":330,"v":0}
],
"pb":[
{"s":"a","t":0,"v":0},{"s":"a","t":5,"v":0},{"s":"a","t":10,"v":0},{"s":"a","t":15,"v":2},{"s":"a","t":20,"v":140},{"s":"a","t":25,"v":265},{"s":"a","t":30,"v":229},{"s":"a","t":35,"v":213},{"s":"a","t":40,"v":202},{"s":"a","t":45,"v":194},{"s":"a","t":50,"v":186},{"s":"a","t":55,"v":181},{"s":"a","t":60,"v":177},{"s":"a","t":65,"v":173},{"s":"a","t":70,"v":169},{"s":"a","t":75,"v":167},{"s":"a","t":80,"v":165},{"s":"a","t":85,"v":163},{"s":"a","t":90,"v":162},{"s":"a","t":95,"v":161},{"s":"a","t":100,"v":160},{"s":"a","t":105,"v":159},{"s":"a","t":110,"v":158},{"s":"a","t":115,"v":158},{"s":"a","t":120,"v":157},{"s":"a","t":125,"v":157},{"s":"a","t":130,"v":157},{"s":"a","t":135,"v":157},{"s":"a","t":140,"v":157},{"s":"a","t":145,"v":157},{"s":"a","t":150,"v":157},{"s":"a","t":155,"v":157},{"s":"a","t":160,"v":157},{"s":"a","t":165,"v":157},{"s":"a","t":170,"v":157},{"s":"a","t":175,"v":157},{"s":"a","t":180,"v":157},{"s":"a","t":185,"v":157},{"s":"a","t":190,"v":157},{"s":"a","t":195,"v":157},{"s":"a","t":200,"v":157},{"s":"a","t":205,"v":157},{"s":"a","t":210,"v":157},{"s":"a","t":215,"v":158},{"s":"a","t":220,"v":159},{"s":"a","t":225,"v":158},{"s":"a","t":230,"v":157},{"s":"a","t":235,"v":157},
{"s":"b","t":0,"v":0},{"s":"b","t":5,"v":0},{"s":"b","t":10,"v":0},{"s":"b","t":15,"v":1},{"s":"b","t":20,"v":18},{"s":"b","t":25,"v":121},{"s":"b","t":30,"v":303},{"s":"b","t":35,"v":248},{"s":"b","t":40,"v":229},{"s":"b","t":45,"v":215},{"s":"b","t":50,"v":202},{"s":"b","t":55,"v":193},{"s":"b","t":60,"v":184},{"s":"b","t":65,"v":178},{"s":"b","t":70,"v":172},{"s":"b","t":75,"v":168},{"s":"b","t":80,"v":165},{"s":"b","t":85,"v":163},{"s":"b","t":90,"v":161},{"s":"b","t":95,"v":160},{"s":"b","t":100,"v":158},{"s":"b","t":105,"v":157},{"s":"b","t":110,"v":155},{"s":"b","t":115,"v":154},{"s":"b","t":120,"v":153},{"s":"b","t":125,"v":152},{"s":"b","t":130,"v":152},{"s":"b","t":135,"v":151},{"s":"b","t":140,"v":151},{"s":"b","t":145,"v":150},{"s":"b","t":150,"v":150},{"s":"b","t":155,"v":150},{"s":"b","t":160,"v":150},{"s":"b","t":165,"v":150},{"s":"b","t":170,"v":150},{"s":"b","t":175,"v":150},{"s":"b","t":180,"v":150},{"s":"b","t":185,"v":150},{"s":"b","t":190,"v":150},{"s":"b","t":195,"v":150},{"s":"b","t":200,"v":150},{"s":"b","t":205,"v":150},{"s":"b","t":210,"v":150},{"s":"b","t":215,"v":150},{"s":"b","t":220,"v":150},{"s":"b","t":225,"v":150},{"s":"b","t":230,"v":150},{"s":"b","t":235,"v":150},
{"s":"c","t":0,"v":0},{"s":"c","t":5,"v":0},{"s":"c","t":10,"v":0},{"s":"c","t":15,"v":2},{"s":"c","t":20,"v":10},{"s":"c","t":25,"v":24},{"s":"c","t":30,"v":28},{"s":"c","t":35,"v":33},{"s":"c","t":40,"v":37},{"s":"c","t":45,"v":40},{"s":"c","t":50,"v":44},{"s":"c","t":55,"v":47},{"s":"c","t":60,"v":50},{"s":"c","t":65,"v":53},{"s":"c","t":70,"v":56},{"s":"c","t":75,"v":57},{"s":"c","t":80,"v":58},{"s":"c","t":85,"v":61},{"s":"c","t":90,"v":63},{"s":"c","t":95,"v":65},{"s":"c","t":100,"v":67},{"s":"c","t":105,"v":69},{"s":"c","t":110,"v":70},{"s":"c","t":115,"v":71},{"s":"c","t":120,"v":72},{"s":"c","t":125,"v":73},{"s":"c","t":130,"v":74},{"s":"c","t":135,"v":75},{"s":"c","t":140,"v":75},{"s":"c","t":145,"v":76},{"s":"c","t":150,"v":76},{"s":"c","t":155,"v":77},{"s":"c","t":160,"v":77},{"s":"c","t":165,"v":81},{"s":"c","t":170,"v":77},{"s":"c","t":175,"v":76},{"s":"c","t":180,"v":76},{"s":"c","t":185,"v":75},{"s":"c","t":190,"v":75},{"s":"c","t":195,"v":76},{"s":"c","t":200,"v":74},{"s":"c","t":205,"v":75},{"s":"c","t":210,"v":76},{"s":"c","t":215,"v":73},{"s":"c","t":220,"v":75},{"s":"c","t":225,"v":74},{"s":"c","t":230,"v":70},{"s":"c","t":235,"v":69},{"s":"c","t":240,"v":66},{"s":"c","t":245,"v":58},{"s":"c","t":250,"v":47},{"s":"c","t":255,"v":36},{"s":"c","t":260,"v":27},{"s":"c","t":265,"v":19},{"s":"c","t":270,"v":9},{"s":"c","t":275,"v":2},{"s":"c","t":280,"v":0},
{"s":"d","t":0,"v":0},{"s":"d","t":5,"v":0},{"s":"d","t":10,"v":0},{"s":"d","t":15,"v":1},{"s":"d","t":20,"v":6},{"s":"d","t":25,"v":15},{"s":"d","t":30,"v":22},{"s":"d","t":35,"v":26},{"s":"d","t":40,"v":30},{"s":"d","t":45,"v":34},{"s":"d","t":50,"v":38},{"s":"d","t":55,"v":42},{"s":"d","t":60,"v":45},{"s":"d","t":65,"v":49},{"s":"d","t":70,"v":52},{"s":"d","t":75,"v":55},{"s":"d","t":80,"v":58},{"s":"d","t":85,"v":60},{"s":"d","t":90,"v":63},{"s":"d","t":95,"v":65},{"s":"d","t":100,"v":66},{"s":"d","t":105,"v":67},{"s":"d","t":110,"v":68},{"s":"d","t":115,"v":69},{"s":"d","t":120,"v":70},{"s":"d","t":125,"v":71},{"s":"d","t":130,"v":72},{"s":"d","t":135,"v":73},{"s":"d","t":140,"v":73},{"s":"d","t":145,"v":74},{"s":"d","t":150,"v":74},{"s":"d","t":155,"v":74},{"s":"d","t":160,"v":73},{"s":"d","t":165,"v":74},{"s":"d","t":170,"v":73},{"s":"d","t":175,"v":74},{"s":"d","t":180,"v":73},{"s":"d","t":185,"v":73},{"s":"d","t":190,"v":72},{"s":"d","t":195,"v":73},{"s":"d","t":200,"v":72},{"s":"d","t":205,"v":72},{"s":"d","t":210,"v":72},{"s":"d","t":215,"v":73},{"s":"d","t":220,"v":75},{"s":"d","t":225,"v":94},{"s":"d","t":230,"v":93},{"s":"d","t":235,"v":92},{"s":"d","t":240,"v":93},{"s":"d","t":245,"v":92},{"s":"d","t":250,"v":80},{"s":"d","t":255,"v":65},{"s":"d","t":260,"v":50},{"s":"d","t":265,"v":38},{"s":"d","t":270,"v":29},{"s":"d","t":275,"v":21},{"s":"d","t":280,"v":13},{"s":"d","t":285,"v":5},{"s":"d","t":290,"v":0},{"s":"d","t":295,"v":0},{"s":"d","t":300,"v":0},{"s":"d","t":305,"v":0},{"s":"d","t":310,"v":0},{"s":"d","t":315,"v":0},
{"s":"e","t":0,"v":0},{"s":"e","t":5,"v":0},{"s":"e","t":10,"v":0},{"s":"e","t":15,"v":1},{"s":"e","t":20,"v":5},{"s":"e","t":25,"v":12},{"s":"e","t":30,"v":18},{"s":"e","t":35,"v":22},{"s":"e","t":40,"v":26},{"s":"e","t":45,"v":28},{"s":"e","t":50,"v":30},{"s":"e","t":55,"v":32},{"s":"e","t":60,"v":33},{"s":"e","t":65,"v":35},{"s":"e","t":70,"v":38},{"s":"e","t":75,"v":41},{"s":"e","t":80,"v":45},{"s":"e","t":85,"v":48},{"s":"e","t":90,"v":50},{"s":"e","t":95,"v":52},{"s":"e","t":100,"v":54},{"s":"e","t":105,"v":55},{"s":"e","t":110,"v":56},{"s":"e","t":115,"v":57},{"s":"e","t":120,"v":58},{"s":"e","t":125,"v":61},{"s":"e","t":130,"v":63},{"s":"e","t":135,"v":60},{"s":"e","t":140,"v":62},{"s":"e","t":145,"v":65},{"s":"e","t":150,"v":63},{"s":"e","t":155,"v":60},{"s":"e","t":160,"v":62},{"s":"e","t":165,"v":61},{"s":"e","t":170,"v":58},{"s":"e","t":175,"v":57},{"s":"e","t":180,"v":56},{"s":"e","t":185,"v":54},{"s":"e","t":190,"v":53},{"s":"e","t":195,"v":55},{"s":"e","t":200,"v":57},{"s":"e","t":205,"v":58},{"s":"e","t":210,"v":59},{"s":"e","t":215,"v":55},{"s":"e","t":220,"v":52},{"s":"e","t":225,"v":49},{"s":"e","t":230,"v":46},{"s":"e","t":235,"v":48},{"s":"e","t":240,"v":46},{"s":"e","t":245,"v":41},{"s":"e","t":250,"v":36},{"s":"e","t":255,"v":30},{"s":"e","t":260,"v":24},{"s":"e","t":265,"v":17},{"s":"e","t":270,"v":10},{"s":"e","t":275,"v":4},{"s":"e","t":280,"v":1},{"s":"e","t":285,"v":0},{"s":"e","t":290,"v":0},{"s":"e","t":295,"v":0},{"s":"e","t":300,"v":0},{"s":"e","t":305,"v":0},{"s":"e","t":310,"v":0},{"s":"e","t":315,"v":0},
{"s":"f","t":0,"v":0},{"s":"f","t":5,"v":0},{"s":"f","t":10,"v":0},{"s":"f","t":15,"v":0},{"s":"f","t":20,"v":2},{"s":"f","t":25,"v":4},{"s":"f","t":30,"v":6},{"s":"f","t":35,"v":10},{"s":"f","t":40,"v":16},{"s":"f","t":45,"v":20},{"s":"f","t":50,"v":22},{"s":"f","t":55,"v":22},{"s":"f","t":60,"v":23},{"s":"f","t":65,"v":23},{"s":"f","t":70,"v":23},{"s":"f","t":75,"v":24},{"s":"f","t":80,"v":24},{"s":"f","t":85,"v":24},{"s":"f","t":90,"v":25},{"s":"f","t":95,"v":25},{"s":"f","t":100,"v":27},{"s":"f","t":105,"v":30},{"s":"f","t":110,"v":32},{"s":"f","t":115,"v":35},{"s":"f","t":120,"v":38},{"s":"f","t":125,"v":43},{"s":"f","t":130,"v":47},{"s":"f","t":135,"v":53},{"s":"f","t":140,"v":45},{"s":"f","t":145,"v":44},{"s":"f","t":150,"v":42},{"s":"f","t":155,"v":38},{"s":"f","t":160,"v":40},{"s":"f","t":165,"v":44},{"s":"f","t":170,"v":43},{"s":"f","t":175,"v":45},{"s":"f","t":180,"v":46},{"s":"f","t":185,"v":46},{"s":"f","t":190,"v":48},{"s":"f","t":195,"v":50},{"s":"f","t":200,"v":44},{"s":"f","t":205,"v":46},{"s":"f","t":210,"v":47},{"s":"f","t":215,"v":45},{"s":"f","t":220,"v":50},{"s":"f","t":225,"v":50},{"s":"f","t":230,"v":48},{"s":"f","t":235,"v":53},{"s":"f","t":240,"v":47},{"s":"f","t":245,"v":43},{"s":"f","t":250,"v":35},{"s":"f","t":255,"v":31},{"s":"f","t":260,"v":27},{"s":"f","t":265,"v":21},{"s":"f","t":270,"v":14},{"s":"f","t":275,"v":8},{"s":"f","t":280,"v":3},{"s":"f","t":285,"v":0},{"s":"f","t":290,"v":0},{"s":"f","t":295,"v":0},{"s":"f","t":300,"v":0},{"s":"f","t":305,"v":0},{"s":"f","t":310,"v":0},{"s":"f","t":315,"v":0}
]
},
"spacing":26,
"resolve":{"scale":{"fill":"independent","stroke":"independent","shape":"independent"}},
"vconcat":[
{"spacing":0,"bounds":"flush",
"resolve":{"scale":{"fill":"independent","stroke":"independent","shape":"independent"}},
"vconcat":[
{"width":567,"height":211,"data":{"name":"ta"},
"resolve":{"axis":{"x":"independent","y":"independent"}},
"layer":[
{"mark":"line","encoding":{"x":{"field":"t","type":"quantitative","scale":{"domain":[0,450],"nice":false},"axis":{"orient":"bottom","values":[0,50,100,150,200,250,300,350,400,450],"labels":false,"title":null}},"y":{"field":"v","type":"quantitative","scale":{"domain":[0,375],"nice":false},"axis":{"orient":"left","values":[0,75,150,225,300,375],"title":"Temperature (°C)","titleAnchor":"start","titleAlign":"center"}},"color":{"field":"s","type":"nominal","legend":null}}},
{"transform":[{"filter":"datum.s=='a'"}],"mark":{"type":"point","shape":"square","size":30},"encoding":{"x":{"field":"t","type":"quantitative","axis":{"orient":"top","values":[0,25,50,75,100,125,150,175,200,225,250,275,300,325,350,375,400,425,450],"title":null}},"y":{"field":"v","type":"quantitative","axis":{"orient":"right","values":[0,37.5,75,112.5,150,187.5,225,262.5,300,337.5,375],"title":null}},"color":{"field":"s","type":"nominal","legend":null}}},
{"transform":[{"filter":"datum.s=='b'"}],"mark":{"type":"point","shape":"circle","size":40},"encoding":{"x":{"field":"t","type":"quantitative","axis":null},"y":{"field":"v","type":"quantitative","axis":null},"color":{"field":"s","type":"nominal","legend":null}}},
{"transform":[{"filter":"datum.s=='c'"}],"mark":{"type":"point","shape":"triangle-up","size":40},"encoding":{"x":{"field":"t","type":"quantitative","axis":null},"y":{"field":"v","type":"quantitative","axis":null},"color":{"field":"s","type":"nominal","legend":null}}},
{"transform":[{"filter":"datum.s=='d'"}],"mark":{"type":"point","shape":"triangle-down","size":40},"encoding":{"x":{"field":"t","type":"quantitative","axis":null},"y":{"field":"v","type":"quantitative","axis":null},"color":{"field":"s","type":"nominal","legend":null}}},
{"transform":[{"filter":"datum.s=='e'"}],"mark":{"type":"point","shape":"diamond","size":45},"encoding":{"x":{"field":"t","type":"quantitative","axis":null},"y":{"field":"v","type":"quantitative","axis":null},"color":{"field":"s","type":"nominal","legend":null}}},
{"transform":[{"filter":"datum.s=='f'"}],"mark":{"type":"point","shape":"M0,-1L0.235,-0.324L0.951,-0.309L0.38,0.124L0.588,0.809L0,0.4L-0.588,0.809L-0.38,0.124L-0.951,-0.309L-0.235,-0.324Z","size":55},"encoding":{"x":{"field":"t","type":"quantitative","axis":null},"y":{"field":"v","type":"quantitative","axis":null},"color":{"field":"s","type":"nominal","legend":null}}},
{"mark":{"type":"rect","color":"#000"},"encoding":{"x":{"datum":7.5,"axis":null},"x2":{"datum":145.5},"y":{"datum":297,"axis":null},"y2":{"datum":361}}},
{"mark":{"type":"text","color":"#fff","font":"Lato","fontWeight":"bold","fontSize":16,"text":"scCO₂ treated rice straw"},"encoding":{"x":{"datum":76.5,"axis":null},"y":{"datum":331,"axis":null}}},
{"mark":{"type":"text","color":"#000","font":"Lato","fontWeight":"bold","fontSize":24,"text":"A"},"encoding":{"x":{"datum":-44,"axis":null},"y":{"datum":357,"axis":null}}}
]},
{"width":567,"height":213,"data":{"name":"tb"},
"resolve":{"axis":{"x":"independent","y":"independent"}},
"layer":[
{"mark":"line","encoding":{"x":{"field":"t","type":"quantitative","scale":{"domain":[0,450],"nice":false},"axis":{"orient":"bottom","values":[0,50,100,150,200,250,300,350,400,450],"title":"Time (s)"}},"y":{"field":"v","type":"quantitative","scale":{"domain":[0,375],"nice":false},"axis":{"orient":"left","values":[0,75,150,225,300],"title":null}},"color":{"field":"s","type":"nominal","legend":null}}},
{"transform":[{"filter":"datum.s=='a'"}],"mark":{"type":"point","shape":"square","size":30},"encoding":{"x":{"field":"t","type":"quantitative","axis":{"orient":"top","values":[0,25,50,75,100,125,150,175,200,225,250,275,300,325,350,375,400,425,450],"title":null}},"y":{"field":"v","type":"quantitative","axis":{"orient":"right","values":[0,37.5,75,112.5,150,187.5,225,262.5,300,337.5,375],"title":null}},"color":{"field":"s","type":"nominal","legend":null}}},
{"transform":[{"filter":"datum.s=='b'"}],"mark":{"type":"point","shape":"circle","size":40},"encoding":{"x":{"field":"t","type":"quantitative","axis":null},"y":{"field":"v","type":"quantitative","axis":null},"color":{"field":"s","type":"nominal","legend":null}}},
{"transform":[{"filter":"datum.s=='c'"}],"mark":{"type":"point","shape":"triangle-up","size":40},"encoding":{"x":{"field":"t","type":"quantitative","axis":null},"y":{"field":"v","type":"quantitative","axis":null},"color":{"field":"s","type":"nominal","legend":null}}},
{"transform":[{"filter":"datum.s=='d'"}],"mark":{"type":"point","shape":"triangle-down","size":40},"encoding":{"x":{"field":"t","type":"quantitative","axis":null},"y":{"field":"v","type":"quantitative","axis":null},"color":{"field":"s","type":"nominal","legend":null}}},
{"transform":[{"filter":"datum.s=='e'"}],"mark":{"type":"point","shape":"diamond","size":45},"encoding":{"x":{"field":"t","type":"quantitative","axis":null},"y":{"field":"v","type":"quantitative","axis":null},"color":{"field":"s","type":"nominal","legend":null}}},
{"transform":[{"filter":"datum.s=='f'"}],"mark":{"type":"point","shape":"M0,-1L0.235,-0.324L0.951,-0.309L0.38,0.124L0.588,0.809L0,0.4L-0.588,0.809L-0.38,0.124L-0.951,-0.309L-0.235,-0.324Z","size":55},"encoding":{"x":{"field":"t","type":"quantitative","axis":null},"y":{"field":"v","type":"quantitative","axis":null},"color":{"field":"s","type":"nominal","legend":null}}},
{"mark":{"type":"rect","color":"#000"},"encoding":{"x":{"datum":8,"axis":null},"x2":{"datum":126},"y":{"datum":309,"axis":null},"y2":{"datum":362}}},
{"mark":{"type":"text","color":"#fff","font":"Lato","fontWeight":"bold","fontSize":16,"text":"Untreated rice straw"},"encoding":{"x":{"datum":67,"axis":null},"y":{"datum":335,"axis":null}}},
{"transform":[{"filter":"datum.t < 0"}],"mark":{"type":"point","filled":true,"size":713},
"encoding":{
"fill":{"field":"s","type":"nominal","scale":{"domain":["a","b","c","d","e","f"],"range":["#000000","#ff0000","#000080","#0b6b35","#ff1493","#8b4513"]},"legend":{"orient":"none","legendX":413,"legendY":24,"title":null,"strokeColor":"#222","fillColor":"#fff","padding":3,"rowPadding":5.5,"symbolSize":713,"symbolStrokeWidth":1,"labelOffset":25,"labelFont":"Lato","labelFontSize":14,"labelColor":"#000","labelExpr":"datum.label=='a'?'>2000 µm':datum.label=='b'?'500-2000 µm':datum.label=='c'?'300-500 µm':datum.label=='d'?'180-300 µm':datum.label=='e'?'125-180 µm':'<125µm'"}},
"stroke":{"field":"s","type":"nominal","scale":{"domain":["a","b","c","d","e","f"],"range":["#000000","#ff0000","#000080","#0b6b35","#ff1493","#8b4513"]},"legend":{"orient":"none","legendX":413,"legendY":24,"title":null,"strokeColor":"#222","fillColor":"#fff","padding":3,"rowPadding":5.5,"symbolSize":713,"symbolStrokeWidth":1,"labelOffset":25,"labelFont":"Lato","labelFontSize":14,"labelColor":"#000","labelExpr":"datum.label=='a'?'>2000 µm':datum.label=='b'?'500-2000 µm':datum.label=='c'?'300-500 µm':datum.label=='d'?'180-300 µm':datum.label=='e'?'125-180 µm':'<125µm'"}},
"shape":{"field":"s","type":"nominal","scale":{"domain":["a","b","c","d","e","f"],"range":["M-1.04,0H2.72M0.59,-0.22H1.03V0.22H0.59Z","M-1.04,0H2.72M0.56,0A0.25,0.25,0,1,1,1.06,0A0.25,0.25,0,1,1,0.56,0Z","M-1.04,0H2.72M0.81,-0.26L1.07,0.2L0.55,0.2Z","M-1.04,0H2.72M0.81,0.26L1.07,-0.2L0.55,-0.2Z","M-1.04,0H2.72M0.81,-0.3L1.11,0L0.81,0.3L0.51,0Z","M-1.04,0H2.72M0.81,-0.3L0.88,-0.1L1.1,-0.09L0.92,0.04L0.99,0.24L0.81,0.12L0.63,0.24L0.7,0.04L0.52,-0.09L0.74,-0.1Z"]},"legend":{"orient":"none","legendX":413,"legendY":24,"title":null,"strokeColor":"#222","fillColor":"#fff","padding":3,"rowPadding":5.5,"symbolSize":713,"symbolStrokeWidth":1,"labelOffset":25,"labelFont":"Lato","labelFontSize":14,"labelColor":"#000","labelExpr":"datum.label=='a'?'>2000 µm':datum.label=='b'?'500-2000 µm':datum.label=='c'?'300-500 µm':datum.label=='d'?'180-300 µm':datum.label=='e'?'125-180 µm':'<125µm'"}}}}
]}
]},
{"spacing":0,"bounds":"flush",
"resolve":{"scale":{"fill":"independent","stroke":"independent","shape":"independent"}},
"vconcat":[
{"width":567,"height":211,"data":{"name":"pa"},
"resolve":{"axis":{"x":"independent","y":"independent"}},
"layer":[
{"mark":"line","encoding":{"x":{"field":"t","type":"quantitative","scale":{"domain":[0,450],"nice":false},"axis":{"orient":"bottom","values":[0,50,100,150,200,250,300,350,400,450],"labels":false,"title":null}},"y":{"field":"v","type":"quantitative","scale":{"domain":[0,375],"nice":false},"axis":{"orient":"left","values":[0,75,150,225,300,375],"title":"Pressure (PSI)","titleAnchor":"start","titleAlign":"center"}},"color":{"field":"s","type":"nominal","legend":null}}},
{"transform":[{"filter":"datum.s=='a'"}],"mark":{"type":"point","shape":"square","size":30},"encoding":{"x":{"field":"t","type":"quantitative","axis":{"orient":"top","values":[0,25,50,75,100,125,150,175,200,225,250,275,300,325,350,375,400,425,450],"title":null}},"y":{"field":"v","type":"quantitative","axis":{"orient":"right","values":[0,37.5,75,112.5,150,187.5,225,262.5,300,337.5,375],"title":null}},"color":{"field":"s","type":"nominal","legend":null}}},
{"transform":[{"filter":"datum.s=='b'"}],"mark":{"type":"point","shape":"circle","size":40},"encoding":{"x":{"field":"t","type":"quantitative","axis":null},"y":{"field":"v","type":"quantitative","axis":null},"color":{"field":"s","type":"nominal","legend":null}}},
{"transform":[{"filter":"datum.s=='c'"}],"mark":{"type":"point","shape":"triangle-up","size":40},"encoding":{"x":{"field":"t","type":"quantitative","axis":null},"y":{"field":"v","type":"quantitative","axis":null},"color":{"field":"s","type":"nominal","legend":null}}},
{"transform":[{"filter":"datum.s=='d'"}],"mark":{"type":"point","shape":"triangle-down","size":40},"encoding":{"x":{"field":"t","type":"quantitative","axis":null},"y":{"field":"v","type":"quantitative","axis":null},"color":{"field":"s","type":"nominal","legend":null}}},
{"transform":[{"filter":"datum.s=='e'"}],"mark":{"type":"point","shape":"diamond","size":45},"encoding":{"x":{"field":"t","type":"quantitative","axis":null},"y":{"field":"v","type":"quantitative","axis":null},"color":{"field":"s","type":"nominal","legend":null}}},
{"transform":[{"filter":"datum.s=='f'"}],"mark":{"type":"point","shape":"M0,-1L0.235,-0.324L0.951,-0.309L0.38,0.124L0.588,0.809L0,0.4L-0.588,0.809L-0.38,0.124L-0.951,-0.309L-0.235,-0.324Z","size":55},"encoding":{"x":{"field":"t","type":"quantitative","axis":null},"y":{"field":"v","type":"quantitative","axis":null},"color":{"field":"s","type":"nominal","legend":null}}},
{"mark":{"type":"rect","color":"#000"},"encoding":{"x":{"datum":51,"axis":null},"x2":{"datum":188.5},"y":{"datum":304,"axis":null},"y2":{"datum":364}}},
{"mark":{"type":"text","color":"#fff","font":"Lato","fontWeight":"bold","fontSize":16,"text":"scCO₂ treated rice straw"},"encoding":{"x":{"datum":120,"axis":null},"y":{"datum":334,"axis":null}}},
{"mark":{"type":"text","color":"#000","font":"Lato","fontWeight":"bold","fontSize":24,"text":"B"},"encoding":{"x":{"datum":-46,"axis":null},"y":{"datum":362,"axis":null}}}
]},
{"width":567,"height":213,"data":{"name":"pb"},
"resolve":{"axis":{"x":"independent","y":"independent"}},
"layer":[
{"mark":"line","encoding":{"x":{"field":"t","type":"quantitative","scale":{"domain":[0,450],"nice":false},"axis":{"orient":"bottom","values":[0,50,100,150,200,250,300,350,400,450],"title":"Time (s)"}},"y":{"field":"v","type":"quantitative","scale":{"domain":[0,375],"nice":false},"axis":{"orient":"left","values":[0,75,150,225,300],"title":null}},"color":{"field":"s","type":"nominal","legend":null}}},
{"transform":[{"filter":"datum.s=='a'"}],"mark":{"type":"point","shape":"square","size":30},"encoding":{"x":{"field":"t","type":"quantitative","axis":{"orient":"top","values":[0,25,50,75,100,125,150,175,200,225,250,275,300,325,350,375,400,425,450],"title":null}},"y":{"field":"v","type":"quantitative","axis":{"orient":"right","values":[0,37.5,75,112.5,150,187.5,225,262.5,300,337.5,375],"title":null}},"color":{"field":"s","type":"nominal","legend":null}}},
{"transform":[{"filter":"datum.s=='b'"}],"mark":{"type":"point","shape":"circle","size":40},"encoding":{"x":{"field":"t","type":"quantitative","axis":null},"y":{"field":"v","type":"quantitative","axis":null},"color":{"field":"s","type":"nominal","legend":null}}},
{"transform":[{"filter":"datum.s=='c'"}],"mark":{"type":"point","shape":"triangle-up","size":40},"encoding":{"x":{"field":"t","type":"quantitative","axis":null},"y":{"field":"v","type":"quantitative","axis":null},"color":{"field":"s","type":"nominal","legend":null}}},
{"transform":[{"filter":"datum.s=='d'"}],"mark":{"type":"point","shape":"triangle-down","size":40},"encoding":{"x":{"field":"t","type":"quantitative","axis":null},"y":{"field":"v","type":"quantitative","axis":null},"color":{"field":"s","type":"nominal","legend":null}}},
{"transform":[{"filter":"datum.s=='e'"}],"mark":{"type":"point","shape":"diamond","size":45},"encoding":{"x":{"field":"t","type":"quantitative","axis":null},"y":{"field":"v","type":"quantitative","axis":null},"color":{"field":"s","type":"nominal","legend":null}}},
{"transform":[{"filter":"datum.s=='f'"}],"mark":{"type":"point","shape":"M0,-1L0.235,-0.324L0.951,-0.309L0.38,0.124L0.588,0.809L0,0.4L-0.588,0.809L-0.38,0.124L-0.951,-0.309L-0.235,-0.324Z","size":55},"encoding":{"x":{"field":"t","type":"quantitative","axis":null},"y":{"field":"v","type":"quantitative","axis":null},"color":{"field":"s","type":"nominal","legend":null}}},
{"mark":{"type":"rect","color":"#000"},"encoding":{"x":{"datum":52,"axis":null},"x2":{"datum":170},"y":{"datum":301,"axis":null},"y2":{"datum":354}}},
{"mark":{"type":"text","color":"#fff","font":"Lato","fontWeight":"bold","fontSize":16,"text":"Untreated rice straw"},"encoding":{"x":{"datum":111,"axis":null},"y":{"datum":328,"axis":null}}},
{"transform":[{"filter":"datum.t < 0"}],"mark":{"type":"point","filled":true,"size":713},
"encoding":{
"fill":{"field":"s","type":"nominal","scale":{"domain":["a","b","c","d","e","f"],"range":["#000000","#ff0000","#000080","#0b6b35","#ff1493","#8b4513"]},"legend":{"orient":"none","legendX":411,"legendY":10,"title":null,"strokeColor":"#222","fillColor":"#fff","padding":3,"rowPadding":5.5,"symbolSize":713,"symbolStrokeWidth":1,"labelOffset":25,"labelFont":"Lato","labelFontSize":14,"labelColor":"#000","labelExpr":"datum.label=='a'?'>2000 µm':datum.label=='b'?'500-2000 µm':datum.label=='c'?'300-500 µm':datum.label=='d'?'180-300 µm':datum.label=='e'?'125-180 µm':'<125µm'"}},
"stroke":{"field":"s","type":"nominal","scale":{"domain":["a","b","c","d","e","f"],"range":["#000000","#ff0000","#000080","#0b6b35","#ff1493","#8b4513"]},"legend":{"orient":"none","legendX":411,"legendY":10,"title":null,"strokeColor":"#222","fillColor":"#fff","padding":3,"rowPadding":5.5,"symbolSize":713,"symbolStrokeWidth":1,"labelOffset":25,"labelFont":"Lato","labelFontSize":14,"labelColor":"#000","labelExpr":"datum.label=='a'?'>2000 µm':datum.label=='b'?'500-2000 µm':datum.label=='c'?'300-500 µm':datum.label=='d'?'180-300 µm':datum.label=='e'?'125-180 µm':'<125µm'"}},
"shape":{"field":"s","type":"nominal","scale":{"domain":["a","b","c","d","e","f"],"range":["M-1.04,0H2.72M0.59,-0.22H1.03V0.22H0.59Z","M-1.04,0H2.72M0.56,0A0.25,0.25,0,1,1,1.06,0A0.25,0.25,0,1,1,0.56,0Z","M-1.04,0H2.72M0.81,-0.26L1.07,0.2L0.55,0.2Z","M-1.04,0H2.72M0.81,0.26L1.07,-0.2L0.55,-0.2Z","M-1.04,0H2.72M0.81,-0.3L1.11,0L0.81,0.3L0.51,0Z","M-1.04,0H2.72M0.81,-0.3L0.88,-0.1L1.1,-0.09L0.92,0.04L0.99,0.24L0.81,0.12L0.63,0.24L0.7,0.04L0.52,-0.09L0.74,-0.1Z"]},"legend":{"orient":"none","legendX":411,"legendY":10,"title":null,"strokeColor":"#222","fillColor":"#fff","padding":3,"rowPadding":5.5,"symbolSize":713,"symbolStrokeWidth":1,"labelOffset":25,"labelFont":"Lato","labelFontSize":14,"labelColor":"#000","labelExpr":"datum.label=='a'?'>2000 µm':datum.label=='b'?'500-2000 µm':datum.label=='c'?'300-500 µm':datum.label=='d'?'180-300 µm':datum.label=='e'?'125-180 µm':'<125µm'"}}}}
]}
]}
]
}
